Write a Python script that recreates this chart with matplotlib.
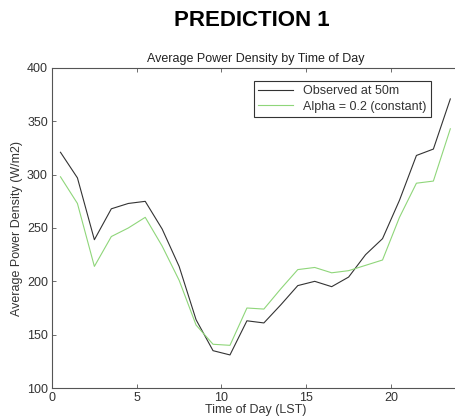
import matplotlib.pyplot as plt

plt.rcParams['font.family'] = ['Liberation Sans', 'DejaVu Sans']

hours = [0.5, 1.5, 2.5, 3.5, 4.5, 5.5, 6.5, 7.5, 8.5, 9.5, 10.5, 11.5,
         12.5, 13.5, 14.5, 15.5, 16.5, 17.5, 18.5, 19.5, 20.5, 21.5, 22.5, 23.5]
observed = [321, 297, 239, 268, 273, 275, 249, 214, 164, 135, 131, 163,
            161, 178, 196, 200, 195, 204, 225, 240, 276, 318, 324, 371]
alpha_const = [298, 273, 214, 242, 250, 260, 233, 201, 159, 141, 140, 175,
               174, 193, 211, 213, 208, 210, 215, 220, 260, 292, 294, 343]

fig = plt.figure(figsize=(4.56, 4.19), dpi=100)
ax = fig.add_axes([52/456, 31/419, 406.8/456, 320/419])

ax.plot(hours, observed, color='#333333', lw=0.8, label='Observed at 50m')
ax.plot(hours, alpha_const, color='#8fd67a', lw=0.8, label='Alpha = 0.2 (constant)')

ax.set_xlim(0, 24)
ax.set_ylim(100, 400)
ax.set_xticks([0, 5, 10, 15, 20])
ax.set_yticks(range(100, 401, 50))
ax.tick_params(direction='in', top=True, right=True, labelsize=9,
               length=3, width=0.6, colors='#555555', labelcolor='#333333', pad=3)
for s in ax.spines.values():
    s.set_color('#555555')
    s.set_linewidth(0.8)

ax.set_title('Average Power Density by Time of Day', fontsize=9, color='#222222', pad=4)
ax.set_xlabel('Time of Day (LST)', fontsize=9, color='#333333', labelpad=0)
ax.set_ylabel('Average Power Density (W/m2)', fontsize=9, color='#333333', labelpad=3)

leg = ax.legend(loc='upper right', bbox_to_anchor=(0.932, 0.959), borderaxespad=0,
                fontsize=9, fancybox=False, framealpha=1, edgecolor='#333333',
                handlelength=2.8, borderpad=0.35, labelspacing=0.25)
leg.get_frame().set_linewidth(0.8)
for t in leg.get_texts():
    t.set_color('#333333')

fig.text(252/456, 1 - 20/419, 'PREDICTION 1', fontsize=16, fontweight='bold',
         ha='center', va='center')

fig.savefig('out.png', dpi=100)
